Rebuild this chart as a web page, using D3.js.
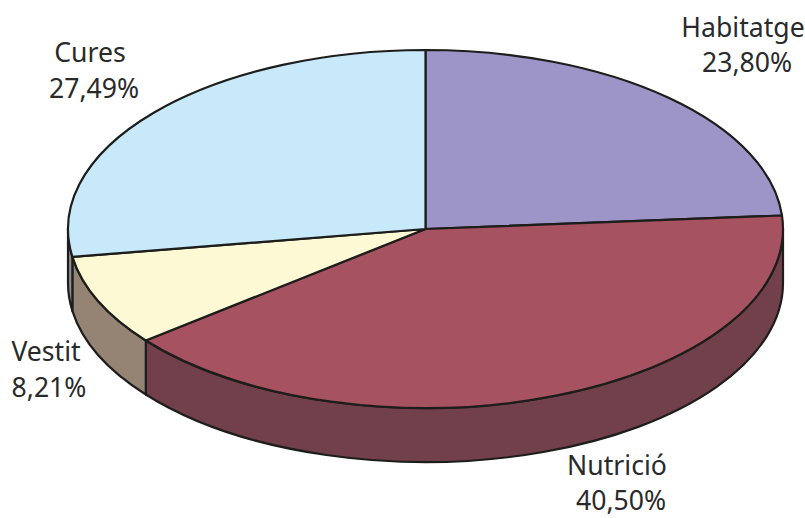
<!DOCTYPE html>
<html lang="en">
<head>
   <meta charset="utf-8">
   <title>Despeses</title>
   <script src="https://d3js.org/d3.v7.min.js"></script>
   <style>
      html, body { margin: 0; padding: 0; background: #fff; }
      svg { display: block; }
      .label { font-family: "Noto Sans", sans-serif; font-size: 26.6px; fill: #2a2a2a; }
   </style>
</head>
<body>
<svg id="chart" width="805" height="518"></svg>
<script>
   var categories = ["Habitatge", "Nutrició", "Vestit", "Cures"];
   var shares = [23.80, 40.50, 8.21, 27.49];
   var shareLabels = ["23,80%", "40,50%", "8,21%", "27,49%"];
   var topColors = ["#9d94c8", "#a65260", "#fef9d5", "#c7e9fa"];
   var sideColors = ["#6f4a55", "#71404a", "#958474", "#8e9094"];
   var labelPos = [[743, 37, 747, 72], [617, 475, 621, 510], [46, 361, 49, 397], [90, 62, 94, 98]];

   var cx = 425.5, cy = 229, rx = 357.5, ry = 179, depth = 54;

   var svg = d3.select("#chart");

   // pie gives angles, clockwise from the top
   var slices = d3.pie().sort(null).value(function(d){ return d; })(shares);

   function px(a){ return cx + rx * Math.sin(a); }
   function py(a){ return cy - ry * Math.cos(a); }

   function topPath(s){
      var large = s.endAngle - s.startAngle > Math.PI ? 1 : 0;
      return "M" + cx + "," + cy + "L" + px(s.startAngle) + "," + py(s.startAngle)
           + "A" + rx + "," + ry + " 0 " + large + " 1 " + px(s.endAngle) + "," + py(s.endAngle) + "Z";
   }

   // the wall is only visible on the front half of the ellipse
   function sidePath(s){
      var a0 = Math.max(s.startAngle, Math.PI / 2);
      var a1 = Math.min(s.endAngle, Math.PI * 1.5);
      if (a1 <= a0) return null;
      return "M" + px(a0) + "," + py(a0)
           + "A" + rx + "," + ry + " 0 0 1 " + px(a1) + "," + py(a1)
           + "L" + px(a1) + "," + (py(a1) + depth)
           + "A" + rx + "," + ry + " 0 0 0 " + px(a0) + "," + (py(a0) + depth) + "Z";
   }

   svg.selectAll("path.side")
      .data(slices.filter(function(s){ return sidePath(s) !== null; }))
      .enter()
      .append("path")
      .attr("class", "side")
      .attr("d", sidePath)
      .attr("fill", function(d){ return sideColors[d.index]; })
      .attr("stroke", "#1d1d1b")
      .attr("stroke-width", 2.2)
      .attr("stroke-linejoin", "round");

   svg.selectAll("path.top")
      .data(slices)
      .enter()
      .append("path")
      .attr("class", "top")
      .attr("d", topPath)
      .attr("fill", function(d){ return topColors[d.index]; })
      .attr("stroke", "#1d1d1b")
      .attr("stroke-width", 2.2)
      .attr("stroke-linejoin", "round");

   var labels = svg.selectAll("g.lab")
      .data(categories)
      .enter()
      .append("g")
      .attr("class", "lab");

   labels.append("text")
      .attr("class", "label")
      .attr("text-anchor", "middle")
      .attr("x", function(d, i){ return labelPos[i][0]; })
      .attr("y", function(d, i){ return labelPos[i][1]; })
      .text(function(d){ return d; });

   labels.append("text")
      .attr("class", "label")
      .attr("text-anchor", "middle")
      .attr("x", function(d, i){ return labelPos[i][2]; })
      .attr("y", function(d, i){ return labelPos[i][3]; })
      .text(function(d, i){ return shareLabels[i]; });
</script>
</body>
</html>
